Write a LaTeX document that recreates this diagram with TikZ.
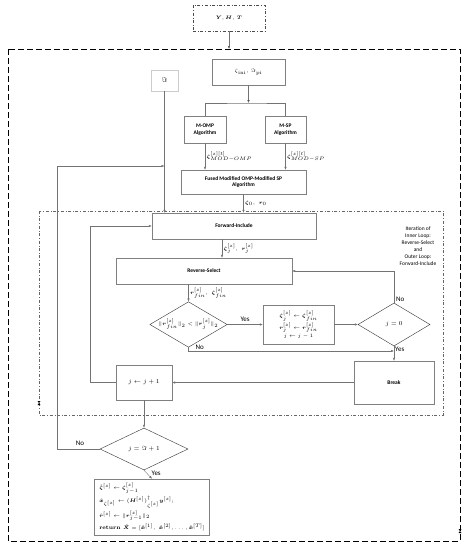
\documentclass[tikz,border=0pt]{standalone}
\usepackage{amsmath,amssymb}
\usepackage{fontspec}
\setsansfont{Carlito}
\usetikzlibrary{arrows.meta,shapes.geometric}
\begin{document}
\begin{tikzpicture}[x=1pt,y=-1pt,
	box/.style={draw=gray,fill=white,align=center,inner sep=1pt,font=\sffamily\bfseries\fontsize{5.5}{6.5}\selectfont},
	decide/.style={shape=diamond,draw=black!80,fill=white,aspect=1.7,inner sep=0pt,font=\fontsize{6}{7}\selectfont},
	arr/.style={draw=gray!90!black,-{Latex[length=3pt,width=2.4pt]}},
	wire/.style={draw=gray!90!black},
	lab/.style={font=\fontsize{5}{6}\selectfont,inner sep=1.5pt},
	answer/.style={font=\sffamily\fontsize{7}{8}\selectfont,inner sep=1pt}]
	\useasboundingbox (0,0) rectangle (471,550);
	% frames
	\draw[line width=0.9pt,dash pattern=on 6pt off 3pt] (8,49) rectangle (460,541);
	\draw[gray!80!black,line width=0.4pt,dash dot] (39,211) rectangle (443,415);
	\fill (37.5,401) -- (40.5,401) -- (37.5,405) -- (40.5,405) -- cycle;
	\fill (458.5,529) -- (461.5,529) -- (458.5,533) -- (461.5,533) -- cycle;
	% nodes
	\node[box,dash dot,draw=black!70,minimum width=72pt,minimum height=26pt] (inp) at (229,18) {$\boldsymbol{Y}, \boldsymbol{H},\ \boldsymbol{T}$};
	\coordinate (top) at (229,49);
	\node[box,minimum width=73pt,minimum height=26pt] (ini) at (248.5,72) {\fontsize{5}{6}\selectfont$\zeta_{\mathrm{ini}},\ \Im_{\mathrm{pi}}$};
	\node[box,draw=gray!40,minimum width=27pt,minimum height=21pt] (imag) at (164.5,80.5) {\fontsize{7}{8}\selectfont$\Im$};
	\coordinate (fork) at (248.5,103);
	\node[box,minimum width=42pt,minimum height=27pt] (momp) at (205,129.5) {M-OMP\\Algorithm};
	\node[box,minimum width=41pt,minimum height=27pt] (msp) at (285.5,129.5) {M-SP\\Algorithm};
	\node[box,minimum width=125pt,minimum height=24pt] (fused) at (243.5,182) {Fused Modified OMP-Modified SP\\Algorithm};
	\node[box,minimum width=164pt,minimum height=26pt] (fwd) at (234,226) {Forward-Include};
	\node[box,minimum width=176pt,minimum height=26pt] (rev) at (204,271) {Reverse-Select};
	\node[decide,minimum width=73pt,minimum height=43pt] (cmp) at (188.5,324.5) {\fontsize{5.5}{6}\selectfont$\|\boldsymbol{r}^{[z]}_{fin}\|_2 < \|\boldsymbol{r}^{[z]}_{j}\|_2$};
	\node[box,font=\fontsize{5.5}{8}\selectfont,minimum width=71pt,minimum height=39pt] (upd) at (298.5,324.5) {$\boldsymbol{\zeta}^{[z]}_{j} \leftarrow \boldsymbol{\zeta}^{[z]}_{fin}$\\$\boldsymbol{r}^{[z]}_{j} \leftarrow \boldsymbol{r}^{[z]}_{fin}$\\$j \leftarrow j-1$};
	\node[decide,minimum width=72pt,minimum height=43pt] (zero) at (394,324.5) {$j = 0$};
	\node[box,minimum width=80pt,minimum height=43pt] (brk) at (394,382.5) {Break};
	\coordinate (nojoin) at (394,351);
	\node[box,font=\fontsize{6}{7}\selectfont,minimum width=56pt,minimum height=35pt] (inc) at (144,382.5) {$j \leftarrow j+1$};
	\coordinate (innerloop) at (90,382.5);
	\node[decide,minimum width=88pt,minimum height=42pt] (stop) at (144,449) {$j = \Im + 1$};
	\coordinate (outerloop) at (57,166);
	\coordinate (imjoin) at (164.5,166);
	\node[box,font=\fontsize{5.5}{8}\selectfont,align=left,minimum width=110pt,minimum height=56pt,inner xsep=5pt] (out) at (152,507) {$\hat{\boldsymbol{\zeta}}^{[z]} \leftarrow \boldsymbol{\zeta}^{[z]}_{j-1}$\\[1.5pt]
		$\hat{\boldsymbol{x}}_{\zeta^{[z]}} \leftarrow (\boldsymbol{H}^{[z]})^{\dagger}_{\zeta^{[z]}}\boldsymbol{y}^{[z]};$\\[1.5pt]
		$\hat{\boldsymbol{r}}^{[z]} \leftarrow \|\boldsymbol{r}^{[z]}_{j-1}\|_2$\\[2pt]
		$\textbf{return } \boldsymbol{\hat{X}} = [\boldsymbol{\hat{x}}^{[1]},\ \boldsymbol{\hat{x}}^{[2]}, \dots, \boldsymbol{\hat{x}}^{[T]}]$};
	\node[font=\sffamily\fontsize{5.5}{7}\selectfont,align=center] (note) at (418,246) {Iteration of\\Inner Loop:\\Reverse-Select\\and\\Outer Loop:\\Forward-Include};
	% connectors
	\path [arr] (inp) edge (top);
	\path [arr] (ini) edge (fork);
	\draw [wire] (momp.north) |- (fork) -| (msp.north);
	\draw [arr] (momp.south) -- (momp.south |- fused.north) node[lab,midway,right] {$\boldsymbol{\zeta}^{[z][t]}_{MOD-OMP}$};
	\draw [arr] (msp.south) -- (msp.south |- fused.north) node[lab,midway,right] {$\boldsymbol{\zeta}^{[z][t]}_{MOD-SP}$};
	\draw [arr] (fused.south) -- (fused.south |- fwd.north) node[lab,midway,right] {$\boldsymbol{\zeta}_0,\ \boldsymbol{r}_0$};
	\draw [arr] (imag.south) -- (imag.south |- fwd.north);
	\draw [arr] (stop.west) -| (outerloop) -- (imjoin);
	\node[answer,anchor=south] at (80,447) {No};
	\draw [arr] (inc.west) -- (innerloop) |- (fwd.west);
	\draw [arr] ([xshift=-12pt]fwd.south) -- ([xshift=-12pt]fwd.south |- rev.north) node[lab,midway,right] {$\boldsymbol{\zeta}^{[z]}_{j},\ \boldsymbol{r}^{[z]}_{j}$};
	\draw [arr] (rev.south -| cmp.north) -- (cmp.north) node[lab,midway,right] {$\boldsymbol{r}^{[z]}_{fin},\ \boldsymbol{\zeta}^{[z]}_{fin}$};
	\draw [arr] (cmp.east) -- (upd.west) node[answer,midway,above=2pt] {Yes};
	\draw [arr] (upd.east) -- (zero.west);
	\draw [arr] (zero.north) |- (rev.east) node[answer,pos=0,anchor=south west,xshift=1pt] {No};
	\draw [arr] (zero.south) -- (brk.north) node[answer,pos=0.2,right] {Yes};
	\draw [arr] (cmp.south) |- (nojoin) node[answer,pos=0.5,anchor=south west,xshift=6pt] {No};
	\draw [arr] (brk.west) -- (inc.east);
	\draw [arr] (inc.south) -- (stop.north);
	\draw [arr] (stop.south) -- (out.north) node[answer,pos=0.3,right=4pt] {Yes};
\end{tikzpicture}
\end{document}
